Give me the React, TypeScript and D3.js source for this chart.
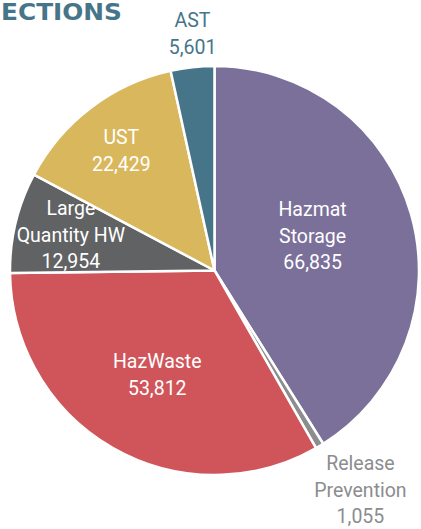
import React from "react";
import * as d3 from "d3";

const categories = ["Hazmat Storage", "Release Prevention", "HazWaste", "Large Quantity HW", "UST", "AST"];
const labelLines = [["Hazmat", "Storage"], ["Release", "Prevention"], ["HazWaste"], ["Large", "Quantity HW"], ["UST"], ["AST"]];
const values = [66835, 1055, 53812, 12954, 22429, 5601];
const colors = ["#7a7099", "#8b8d8f", "#d0555a", "#616264", "#d9b75c", "#467589"];
const labelColors = ["#ffffff", "#8b8d8f", "#ffffff", "#ffffff", "#ffffff", "#467589"];
const labelRadius = [104, 263.5, 119, 148, 152, 238];
const labelAngleOffset = [-3.35, -2.7, -1.0, 0.3, -0.6, 0.9];
const titleText = "ECTIONS";

const W = 421, H = 529;
const cx = 214.5, cy = 270.5, R = 204.5;

export default function App() {
  const fmt = d3.format(",");
  const pie = d3.pie<number>().sort(null).value((d) => d).startAngle(0).endAngle(2 * Math.PI);
  const arcs = pie(values);
  const arc = d3.arc<d3.PieArcDatum<number>>().innerRadius(0).outerRadius(R);
  const lh = 26.5;
  return (
    <svg width={W} height={H} style={{ position: "fixed", left: 0, top: 0, background: "#fff" }}>
      <text x={1} y={19.5} textLength={121} lengthAdjust="spacingAndGlyphs" fill="#467589" fontFamily="DejaVu Sans" fontWeight="bold" fontSize={23}>
        {titleText}
      </text>
      <g transform={`translate(${cx},${cy})`}>
        {arcs.map((a, i) => (
          <path key={categories[i]} d={arc(a) || ""} fill={colors[i]} stroke="#fff" strokeWidth={2.5} strokeLinejoin="round" />
        ))}
        {arcs.map((a, i) => {
          const mid = (a.startAngle + a.endAngle) / 2 + (labelAngleOffset[i] * Math.PI) / 180;
          const r = labelRadius[i];
          const x = r * Math.sin(mid);
          const y = -r * Math.cos(mid);
          const lines = [...labelLines[i], fmt(values[i])];
          const y0 = y - ((lines.length - 1) * lh) / 2;
          return (
            <text key={"l" + i} textAnchor="middle" fill={labelColors[i]} fontFamily="Roboto" fontSize={19.5}>
              {lines.map((s, j) => (
                <tspan key={j} x={x} y={y0 + j * lh} dy="0.35em">{s}</tspan>
              ))}
            </text>
          );
        })}
      </g>
    </svg>
  );
}
